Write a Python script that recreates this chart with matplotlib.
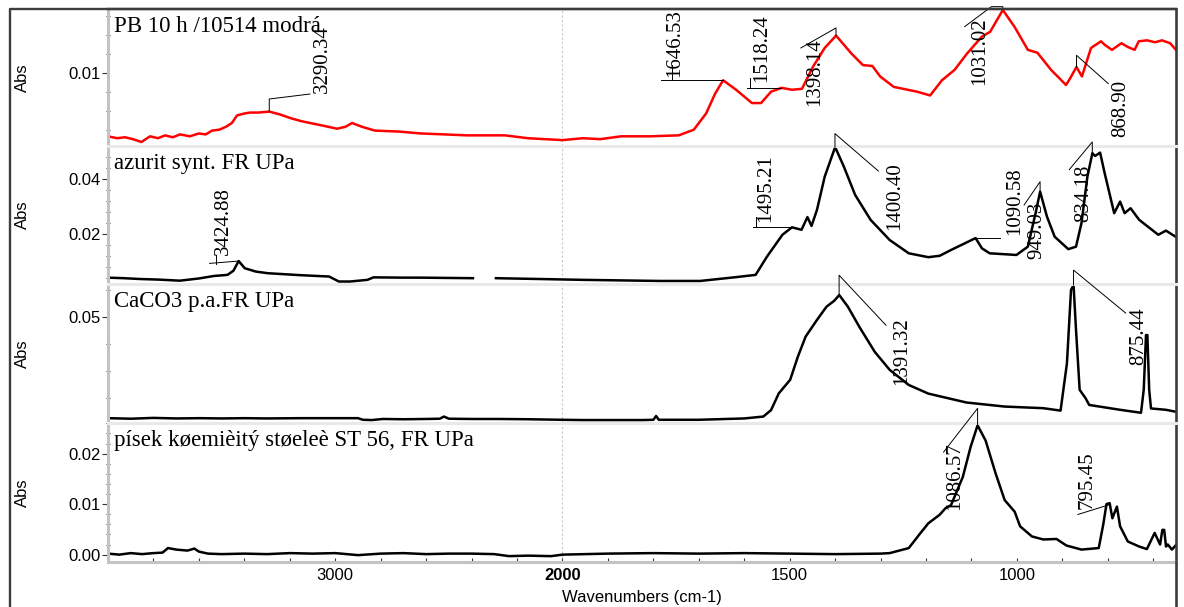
import numpy as np
import matplotlib
matplotlib.use("Agg")
import matplotlib.pyplot as plt
from matplotlib.lines import Line2D
from matplotlib.ticker import FixedLocator, MultipleLocator, FormatStrFormatter
from matplotlib.transforms import offset_copy

plt.rcParams["font.family"] = ["Liberation Sans", "DejaVu Sans"]

# ---- spectra: wavenumber (cm-1) / absorbance ----
pb_wn = [4000, 3960, 3925, 3890, 3853, 3815, 3780, 3749, 3715, 3683,
         3640, 3600, 3570, 3542, 3510, 3481, 3455, 3432, 3400, 3375,
         3340, 3290, 3243, 3195, 3150, 3111, 3050, 2992, 2955, 2926,
         2882, 2825, 2720, 2623, 2520, 2420, 2330, 2253, 2152, 2077,
         2000, 1955, 1917, 1871, 1807, 1744, 1711, 1684, 1664, 1646.5,
         1618, 1583, 1563, 1541, 1518, 1495, 1473, 1449, 1423, 1398,
         1364, 1339, 1318, 1301, 1271, 1220, 1191, 1165, 1137, 1110,
         1077, 1059, 1031, 1005, 976, 955, 925, 892, 883, 869,
         857, 837, 815, 806, 791, 770, 756, 741, 732, 714,
         696, 681, 663, 650]
pb_abs = [0.0033, 0.0031, 0.0032, 0.0030, 0.0027, 0.0033, 0.0031, 0.0034, 0.0032, 0.0035,
          0.0033, 0.0036, 0.0035, 0.0039, 0.0040, 0.0043, 0.0047, 0.0055, 0.0057, 0.0058,
          0.0058, 0.0059, 0.0056, 0.0052, 0.0049, 0.0047, 0.0044, 0.0041, 0.0043, 0.0047,
          0.0043, 0.0039, 0.0038, 0.0036, 0.0035, 0.0034, 0.0034, 0.0034, 0.0031, 0.0030,
          0.0029, 0.0031, 0.0030, 0.0033, 0.0033, 0.0034, 0.0040, 0.0057, 0.0078, 0.0092,
          0.0082, 0.0068, 0.0068, 0.0080, 0.0084, 0.0082, 0.0083, 0.0106, 0.0126, 0.0139,
          0.0120, 0.0108, 0.0107, 0.0096, 0.0085, 0.0080, 0.0076, 0.0092, 0.0103, 0.0120,
          0.0138, 0.0143, 0.0166, 0.0148, 0.0124, 0.0121, 0.0103, 0.0087, 0.0094, 0.0106,
          0.0096, 0.0126, 0.0133, 0.0129, 0.0124, 0.0131, 0.0127, 0.0124, 0.0133, 0.0134,
          0.0132, 0.0134, 0.0131, 0.0124]

az_wn = [4000, 3930, 3859, 3780, 3684, 3600, 3534, 3474, 3448, 3425,
         3398, 3350, 3297, 3155, 3027, 2984, 2935, 2858, 2832, 2700,
         2627, 2394, 2340, 2293, 2099, 1955, 1786, 1697, 1617, 1575,
         1550, 1516, 1495, 1474, 1461, 1452, 1440, 1423, 1400, 1381,
         1356, 1322, 1280, 1238, 1195, 1170, 1145, 1091, 1077, 1060,
         1001, 976, 959, 949, 934, 917, 887, 870, 858, 845,
         834, 828, 817, 807, 786, 773, 763, 750, 731, 689,
         672, 651]
az_abs = [0.0043, 0.0041, 0.0038, 0.0036, 0.0032, 0.0040, 0.0049, 0.0053, 0.0068, 0.0103,
          0.0077, 0.0065, 0.0059, 0.0052, 0.0047, 0.0029, 0.0029, 0.0035, 0.0044, 0.0043,
          0.0043, 0.0041, np.nan, 0.0041, 0.0038, 0.0035, 0.0031, 0.0031, 0.0045, 0.0053,
          0.0119, 0.0198, 0.0225, 0.0216, 0.0262, 0.0230, 0.0288, 0.0408, 0.0515, 0.0445,
          0.0342, 0.0252, 0.0179, 0.0131, 0.0117, 0.0122, 0.0143, 0.0186, 0.0149, 0.0131,
          0.0125, 0.0155, 0.0276, 0.0354, 0.0264, 0.0191, 0.0146, 0.0155, 0.0240, 0.0408,
          0.0493, 0.0483, 0.0495, 0.0421, 0.0276, 0.0318, 0.0276, 0.0294, 0.0252, 0.0198,
          0.0213, 0.0191]

cc_wn = [4000, 3900, 3800, 3700, 3595, 3500, 3400, 3300, 3155, 3000,
         2900, 2878, 2840, 2790, 2700, 2600, 2540, 2521, 2500, 2400,
         2275, 2150, 2000, 1955, 1824, 1800, 1794, 1788, 1700, 1600,
         1558, 1541, 1524, 1499, 1482, 1465, 1440, 1419, 1402, 1391,
         1372, 1347, 1313, 1280, 1238, 1195, 1111, 1027, 942, 904,
         890, 881, 875.4, 870, 862, 849, 841, 773, 727, 721,
         716, 713, 709, 705, 672, 651]
cc_abs = [0.0124, 0.0122, 0.0125, 0.0123, 0.0124, 0.0123, 0.0124, 0.0123, 0.0124, 0.0124,
          0.0124, 0.0118, 0.0117, 0.0121, 0.0120, 0.0121, 0.0122, 0.0130, 0.0122, 0.0121,
          0.0121, 0.0120, 0.0118, 0.0117, 0.0117, 0.0118, 0.0132, 0.0118, 0.0118, 0.0123,
          0.0130, 0.0154, 0.0216, 0.0266, 0.0352, 0.0426, 0.0488, 0.0537, 0.0559, 0.0580,
          0.0537, 0.0463, 0.0370, 0.0303, 0.0247, 0.0215, 0.0182, 0.0167, 0.0161, 0.0152,
          0.0327, 0.0599, 0.0617, 0.0451, 0.0229, 0.0198, 0.0173, 0.0155, 0.0144, 0.0229,
          0.0432, 0.0432, 0.0229, 0.0160, 0.0155, 0.0148]

sd_wn = [4000, 3950, 3900, 3850, 3800, 3760, 3736, 3700, 3650, 3620,
         3600, 3560, 3500, 3400, 3300, 3200, 3100, 3000, 2900, 2800,
         2700, 2600, 2500, 2400, 2300, 2235, 2150, 2050, 2000, 1950,
         1900, 1800, 1700, 1600, 1500, 1400, 1300, 1280, 1238, 1212,
         1195, 1170, 1157, 1145, 1119, 1102, 1086.6, 1069, 1047, 1027,
         1005, 993, 967, 942, 913, 891, 858, 820, 810, 803,
         796, 790, 780, 773, 756, 731, 714, 697, 685, 680,
         676, 672, 668, 659, 651]
sd_abs = [0.0002, 0.0000, 0.0003, 0.0001, 0.0003, 0.0004, 0.0013, 0.0010, 0.0008, 0.0012,
          0.0006, 0.0002, 0.0001, 0.0002, 0.0001, 0.0003, 0.0002, 0.0003, -0.0001, 0.0002,
          0.0003, 0.0001, 0.0002, 0.0002, 0.0001, -0.0003, -0.0002, -0.0003, 0.0000, 0.0001,
          0.0002, 0.0003, 0.0002, 0.0003, 0.0002, 0.0001, 0.0002, 0.0003, 0.0013, 0.0043,
          0.0062, 0.0079, 0.0092, 0.0098, 0.0154, 0.0213, 0.0256, 0.0226, 0.0161, 0.0108,
          0.0085, 0.0056, 0.0036, 0.0030, 0.0031, 0.0018, 0.0010, 0.0013, 0.0060, 0.0100,
          0.0102, 0.0072, 0.0095, 0.0056, 0.0026, 0.0016, 0.0011, 0.0043, 0.0020, 0.0049,
          0.0049, 0.0016, 0.0020, 0.0010, 0.0018]

titles = ["PB 10 h /10514 modrá", "azurit synt. FR UPa", "CaCO3 p.a.FR UPa",
          "písek køemièitý støeleè ST 56, FR UPa"]
ylims = [(0.00228, 0.0167), (0.0020, 0.0519), (0.0105, 0.0621), (-0.0014, 0.0260)]
ymajor = [[0.01], [0.02, 0.04], [0.05], [0.00, 0.01, 0.02]]
yminor = [0.002, 0.004, 0.01, 0.002]
xmajor = [3000, 2000, 1500, 1000]
xmajor_labels = ["3000", "2000", "1500", "1000"]
xminor = [3800, 3600, 3400, 3200, 2800, 2600, 2400, 2200,
          1900, 1800, 1700, 1600, 1400, 1300, 1200, 1100, 900, 800, 700]

# peak labels: panel, wavenumber, text, leader polylines (px offsets), text offset (px)
peak_labels = [
    (0, 3290.34, "3290.34", [[(0, 0), (0, 12.6), (40.7, 17.6)]], (43.7, 18.6)),
    (0, 1646.53, "1646.53", [[(0, 0), (-62, 0)], [(-51, 0), (-51, 15)]], (-58, 3.6)),
    (0, 1518.24, "1518.24", [[(0, 0), (-34.5, 0)], [(-31, 0), (-31, 9.5)]], (-29.7, 6.2)),
    (0, 1398.14, "1398.14", [[(0, 0), (0, 7.7), (-35.2, -12.3)]], (-30.6, -70.7)),
    (0, 1031.02, "1031.02", [[(0, 0), (0, 3.3), (-11.4, 3.3), (-38.2, -16.7)]], (-32.9, -75)),
    (0, 868.90, "868.90", [[(0, 0), (0, 11.7), (31.8, -16.6)]], (35, -70)),
    (1, 3424.88, "3424.88", [[(0, 0), (-29.1, -2.3)], [(-22.2, -3), (-22.2, 6)]], (-24.7, 6)),
    (1, 1495.21, "1495.21", [[(0, 0), (-39, 0)], [(-35.6, 0), (-35.6, 10.6)]], (-36, 5.6)),
    (1, 1400.40, "1400.40", [[(0, 0), (0, 14), (43.4, -23.4)]], (50, -82.7)),
    (1, 1090.58, "1090.58", [[(0, 0), (24.5, 0)]], (29.2, 3.3)),
    (1, 949.03, "949.03", [[(0, 0), (0, 10), (-16, -13.3)]], (-13, -67.3)),
    (1, 834.18, "834.18", [[(0, 0), (0, 11.6), (-23, -16)]], (-18.3, -68.4)),
    (2, 1391.32, "1391.32", [[(0, 0), (0, 20), (46.9, -30)]], (52.7, -90)),
    (2, 875.44, "875.44", [[(0, 0), (0, 15), (52.2, -28)]], (56, -80)),
    (3, 1086.57, "1086.57", [[(0, 0), (0, 17), (-34, -26.7)]], (-32.1, -85)),
    (3, 795.45, "795.45", [[(0, 0), (-32, -10)]], (-32, -5)),
]

spectra = [(pb_wn, pb_abs, "#ff0000"), (az_wn, az_abs, "black"),
           (cc_wn, cc_abs, "black"), (sd_wn, sd_abs, "black")]


def fwd(w):
    # OMNIC style: region above 2000 cm-1 compressed by half
    w = np.asarray(w, dtype=float)
    return np.where(w > 2000, 2000 + (w - 2000) / 2, w)


def inv(t):
    t = np.asarray(t, dtype=float)
    return np.where(t > 2000, 2000 + (t - 2000) * 2, t)


W, H = 1184, 607
fig = plt.figure(figsize=(W / 100, H / 100), dpi=100)
edges = [(9, 146), (146, 284), (284, 423.3), (423.3, 561.7)]
x0, x1 = 108, 1176
dark, grey, light = "#3c3c3c", "#c3c3c3", "#e9e9e9"

axes = []
for i, (top, bot) in enumerate(edges):
    ax = fig.add_axes([x0 / W, 1 - bot / H, (x1 - x0) / W, (bot - top) / H])
    ax.patch.set_visible(False)
    ax.set_xscale("function", functions=(fwd, inv))
    ax.set_xlim(4000, 650)
    ax.set_ylim(*ylims[i])
    wn, ab, col = spectra[i]
    ax.plot(wn, ab, color=col, lw=1.8, zorder=2)
    ax.axvline(2000, color="#c8c8c8", lw=0.8, ls=(0, (2, 2)), zorder=1)

    ax.yaxis.set_major_locator(FixedLocator(ymajor[i]))
    ax.yaxis.set_minor_locator(MultipleLocator(yminor[i]))
    ax.yaxis.set_major_formatter(FormatStrFormatter("%.2f"))
    ax.tick_params(axis="y", which="major", direction="out", length=4, width=0.8,
                   pad=1, labelsize=12, color="#333333")
    ax.tick_params(axis="y", which="minor", direction="inout", length=3, width=0.8,
                   color="#333333")
    ax.set_ylabel("Abs", fontsize=12)
    ax.yaxis.set_label_coords((30.2 - x0) / (x1 - x0), 0.5)

    ax.spines["left"].set(color=grey, lw=2.2)
    ax.spines["right"].set(color=dark, lw=1.9)
    ax.spines["top"].set(color=dark if i == 0 else light, lw=1.7 if i == 0 else 2.2)
    if i == 3:
        ax.spines["bottom"].set(color=grey, lw=2.2)
    else:
        ax.spines["bottom"].set_visible(False)
        ax.tick_params(axis="x", which="both", bottom=False, labelbottom=False)

    trans = offset_copy(ax.transAxes, fig=fig, x=5.5, y=-23, units="dots")
    ax.text(0, 1, titles[i], transform=trans, ha="left", va="baseline",
            fontsize=16.5, family=["Liberation Serif", "DejaVu Serif"])
    axes.append(ax)

ax = axes[3]
ax.set_xticks(xmajor, labels=xmajor_labels)
ax.xaxis.set_minor_locator(FixedLocator(xminor))
ax.tick_params(axis="x", which="both", direction="in", length=3, width=0.8,
               color="#333333", labelsize=12, pad=4.5)
for lbl in ax.get_xticklabels():
    if lbl.get_text() == "2000":
        lbl.set_fontweight("bold")
ax.set_xlabel("Wavenumbers (cm-1)", fontsize=12)
ax.xaxis.set_label_coords(0.5, -(590 - 561.7) / (561.7 - 423.3))

# peak annotations
for panel, w, lab, lines, (tx, ty) in peak_labels:
    ax = axes[panel]
    wn, ab, _ = spectra[panel]
    a = np.interp(w, wn[::-1], ab[::-1])
    base = ax.transData.transform((w, a))
    back = ax.transData.inverted()
    for seg in lines:
        pts = back.transform(base + np.array(seg, dtype=float))
        ax.plot(pts[:, 0], pts[:, 1], color="black", lw=0.7, clip_on=False, zorder=4)
    px, py = back.transform(base + np.array([tx, ty]))
    ax.text(px, py, lab, rotation=90, ha="left", va="bottom", fontsize=15,
            family=["Liberation Serif", "DejaVu Serif"], clip_on=False, zorder=4)

# outer frame
fx0, fx1, fy = 9.5 / W, x1 / W, 1 - 9 / H
fig.add_artist(Line2D([fx0, fx0, fx1], [0, fy, fy], color=dark, lw=1.7))
fig.add_artist(Line2D([fx1, fx1], [0, 1 - 561.7 / H], color=dark, lw=1.9))

fig.savefig("out.png", dpi=100)
